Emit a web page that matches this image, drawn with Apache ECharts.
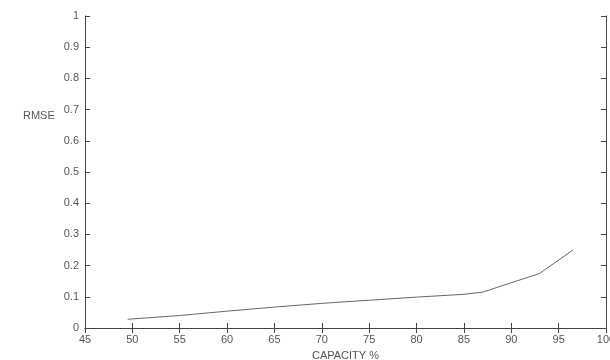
<!DOCTYPE html>
<html>
<head>
<meta charset="utf-8">
<script src="https://cdn.jsdelivr.net/npm/echarts@6/dist/echarts.min.js"></script>
<style>
  html, body { margin: 0; padding: 0; background: #fff; }
  #chart { width: 610px; height: 360px; }
</style>
</head>
<body>
<div id="chart"></div>
<script>
// capacity (%) and RMSE
var capacity = [49.5, 55, 60, 65, 70, 75, 80, 85, 87, 93, 96.5];
var rmse = [0.028, 0.04, 0.054, 0.067, 0.079, 0.089, 0.099, 0.108, 0.115, 0.175, 0.25];

var chartDom = document.getElementById('chart');
var myChart = echarts.init(chartDom);

var axisColor = '#444';
var labelStyle = { color: '#555', fontSize: 11, fontFamily: 'Liberation Sans' };

var points = capacity.map(function (c, i) { return [c, rmse[i]]; });

var option = {
  animation: false,
  grid: { left: 85, right: 4, top: 16, bottom: 32, outerBoundsMode: 'none', containLabel: false },
  title: {
    text: 'RMSE',
    left: 18, top: 105,
    textStyle: { color: '#555', fontSize: 11, fontWeight: 'normal', fontFamily: 'Liberation Sans' }
  },
  xAxis: [
    {
      type: 'value', min: 45, max: 100, interval: 5,
      name: 'CAPACITY %', nameLocation: 'middle', nameGap: 22,
      nameTextStyle: labelStyle,
      axisLine: { show: true, lineStyle: { color: axisColor, width: 1 } },
      axisTick: { show: true, inside: true, length: 5, lineStyle: { color: axisColor } },
      axisLabel: Object.assign({ margin: 6, showMaxLabel: true, showMinLabel: true, hideOverlap: false }, labelStyle),
      splitLine: { show: false }
    },
    {
      type: 'value', min: 45, max: 100, interval: 5, position: 'top',
      axisLine: { show: true, lineStyle: { color: axisColor, width: 1 } },
      axisTick: { show: true, inside: true, length: 5, lineStyle: { color: axisColor } },
      axisLabel: { show: false },
      splitLine: { show: false }
    }
  ],
  yAxis: [
    {
      type: 'value', min: 0, max: 1, interval: 0.1,
      axisLine: { show: true, lineStyle: { color: axisColor, width: 1 } },
      axisTick: { show: true, inside: true, length: 5, lineStyle: { color: axisColor } },
      axisLabel: Object.assign({
        margin: 6,
        formatter: function (v) { return String(Math.round(v * 10) / 10); }
      }, labelStyle),
      splitLine: { show: false }
    },
    {
      type: 'value', min: 0, max: 1, interval: 0.1, position: 'right',
      axisLine: { show: true, lineStyle: { color: axisColor, width: 1 } },
      axisTick: { show: true, inside: true, length: 5, lineStyle: { color: axisColor } },
      axisLabel: { show: false },
      splitLine: { show: false }
    }
  ],
  series: [
    {
      type: 'line',
      data: points,
      symbol: 'none',
      lineStyle: { color: '#666', width: 1 },
      silent: true
    }
  ]
};

myChart.setOption(option);
</script>
</body>
</html>
